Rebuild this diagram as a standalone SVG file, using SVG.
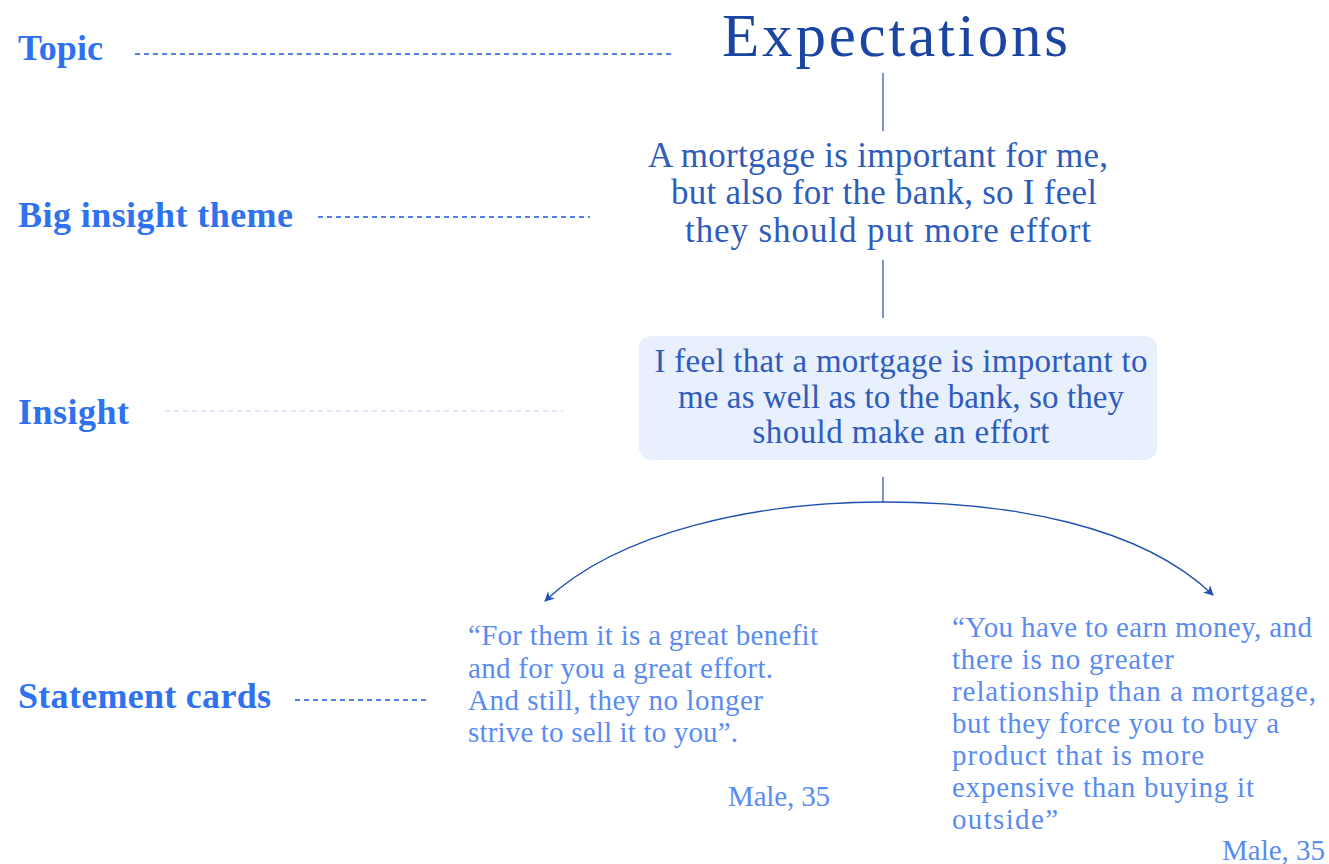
<svg xmlns="http://www.w3.org/2000/svg" width="1329" height="864" viewBox="0 0 1329 864">
<style>
.lbl{font-family:"Liberation Serif","DejaVu Serif",serif;font-weight:bold;font-size:36px;fill:#2F72F0}
.title{font-family:"Liberation Serif","DejaVu Serif",serif;font-size:61px;fill:#1A45A3}
.big{font-family:"Liberation Serif","DejaVu Serif",serif;font-size:35px;fill:#2E5CBB;text-anchor:middle}
.ins{font-family:"Liberation Serif","DejaVu Serif",serif;font-size:33px;fill:#2E5CBB;text-anchor:middle}
.st{font-family:"Liberation Serif","DejaVu Serif",serif;font-size:29px;fill:#5A8CF0}
.dash{stroke:#1F5AE0;stroke-width:1.3;stroke-dasharray:5 4;fill:none}
.vl{stroke:#2E5CBB;stroke-width:1.3;fill:none}
</style>
<defs>
<marker id="ah" viewBox="0 0 10 10" refX="9" refY="5" markerWidth="10" markerHeight="10" markerUnits="userSpaceOnUse" orient="auto">
<path d="M0,0 L10,5 L0,10 L3,5 Z" fill="#1F4FB0"/>
</marker>
</defs>
<rect width="1329" height="864" fill="#fff"/>
<g id="labels">
<text class="lbl" x="18" y="60" textLength="85">Topic</text>
<text class="lbl" x="18" y="227" textLength="275">Big insight theme</text>
<text class="lbl" x="18" y="424" textLength="111">Insight</text>
<text class="lbl" x="18" y="708" textLength="253">Statement cards</text>
</g>
<g id="guides">
<line class="dash" x1="135" y1="54" x2="672" y2="54"/>
<line class="dash" x1="318" y1="217" x2="590" y2="217"/>
<line class="dash" x1="165" y1="411" x2="563" y2="411" style="stroke:#D3E0FA"/>
<line class="dash" x1="295" y1="700" x2="428" y2="700"/>
</g>
<g id="topic">
<text class="title" x="722" y="56" textLength="346">Expectations</text>
</g>
<g id="big-insight">
<text class="big" x="878" y="167" textLength="460">A mortgage is important for me,</text>
<text class="big" x="884" y="204" textLength="426">but also for the bank, so I feel</text>
<text class="big" x="888" y="242" textLength="406">they should put more effort</text>
</g>
<g id="insight">
<rect x="639" y="336" width="518" height="124" rx="12" fill="#E8F0FD"/>
<text class="ins" x="901" y="372" textLength="493">I feel that a mortgage is important to</text>
<text class="ins" x="901" y="408" textLength="446">me as well as to the bank, so they</text>
<text class="ins" x="901" y="443" textLength="297">should make an effort</text>
</g>
<g id="connectors">
<line class="vl" x1="883" y1="73" x2="883" y2="131"/>
<line class="vl" x1="883" y1="260" x2="883" y2="318"/>
<line class="vl" x1="883" y1="477" x2="883" y2="502"/>
<path class="vl" d="M883,502 C760,502 620,530 545,601" marker-end="url(#ah)" style="stroke:#1F4FB0"/>
<path class="vl" d="M883,502 C1010,502 1140,525 1213,595" marker-end="url(#ah)" style="stroke:#1F4FB0"/>
</g>
<g id="statement-1">
<text class="st" x="468" y="645" textLength="350">“For them it is a great benefit</text>
<text class="st" x="468" y="678" textLength="305">and for you a great effort.</text>
<text class="st" x="468" y="710" textLength="295">And still, they no longer</text>
<text class="st" x="468" y="742" textLength="270">strive to sell it to you”.</text>
<text class="st" x="728" y="806" textLength="102">Male, 35</text>
</g>
<g id="statement-2">
<text class="st" x="952" y="637" textLength="360">“You have to earn money, and</text>
<text class="st" x="952" y="669" textLength="222">there is no greater</text>
<text class="st" x="952" y="701" textLength="364">relationship than a mortgage,</text>
<text class="st" x="952" y="733" textLength="327">but they force you to buy a</text>
<text class="st" x="952" y="765" textLength="252">product that is more</text>
<text class="st" x="952" y="797" textLength="302">expensive than buying it</text>
<text class="st" x="952" y="829" textLength="106">outside”</text>
<text class="st" x="1222" y="860" textLength="103">Male, 35</text>
</g>
</svg>
